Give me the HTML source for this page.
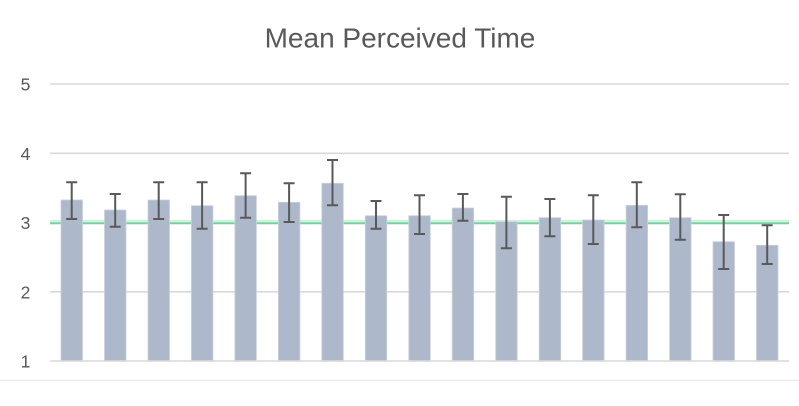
<!DOCTYPE html>
<html>
<head>
<meta charset="utf-8">
<style>
html,body{margin:0;padding:0;background:#fff;}
svg{display:block;}
</style>
</head>
<body>
<svg width="799" height="406" viewBox="0 0 799 406" xmlns="http://www.w3.org/2000/svg">
<rect x="0" y="0" width="799" height="406" fill="#ffffff"/>
<text x="400" y="47.5" text-anchor="middle" font-family="'Liberation Sans', sans-serif" font-size="28" fill="#595959">Mean Perceived Time</text>
<g stroke="#d9d9d9" stroke-width="1.6">
<line x1="50" y1="84" x2="789" y2="84"/>
<line x1="50" y1="153.3" x2="789" y2="153.3"/>
<line x1="50" y1="222.5" x2="789" y2="222.5"/>
<line x1="50" y1="291.8" x2="789" y2="291.8"/>
</g>
<line x1="0" y1="380.3" x2="799" y2="380.3" stroke="#e3e3e3" stroke-width="1"/>
<g font-family="'Liberation Sans', sans-serif" font-size="17.5" fill="#595959" text-anchor="middle">
<text x="25.5" y="90.5">5</text>
<text x="25.5" y="159.8">4</text>
<text x="25.5" y="229">3</text>
<text x="25.5" y="298.3">2</text>
<text x="25.5" y="367.5">1</text>
</g>
<rect x="50" y="219.8" width="739" height="5" fill="#d3efe0"/>
<line x1="50" y1="223.2" x2="789" y2="223.2" stroke="#6fd39a" stroke-width="1.6"/>
<g fill="#adb9ca" stroke="#c9d1dd" stroke-width="0.8">
<rect x="61" y="200" width="21.5" height="161"/>
<rect x="104.5" y="210" width="21.5" height="151"/>
<rect x="148" y="200" width="21.5" height="161"/>
<rect x="191.4" y="205.7" width="21.5" height="155.3"/>
<rect x="234.9" y="195.7" width="21.5" height="165.3"/>
<rect x="278.4" y="202.3" width="21.5" height="158.7"/>
<rect x="321.8" y="183.3" width="21.5" height="177.7"/>
<rect x="365.3" y="215.7" width="21.5" height="145.3"/>
<rect x="408.8" y="215.7" width="21.5" height="145.3"/>
<rect x="452.2" y="208" width="21.5" height="153"/>
<rect x="495.7" y="221.7" width="21.5" height="139.3"/>
<rect x="539.2" y="217.7" width="21.5" height="143.3"/>
<rect x="582.6" y="220" width="21.5" height="141"/>
<rect x="626.1" y="205.3" width="21.5" height="155.7"/>
<rect x="669.6" y="217.7" width="21.5" height="143.3"/>
<rect x="713" y="241.7" width="21.5" height="119.3"/>
<rect x="756.5" y="245.3" width="21.5" height="115.7"/>
</g>
<line x1="50" y1="361" x2="789" y2="361" stroke="#d9d9d9" stroke-width="1.6"/>
<g stroke="#595959" stroke-width="2" fill="none">
<path d="M71.7 182.3V219 M66.2 182.3H77.2 M66.2 219H77.2"/>
<path d="M115.2 194V226.7 M109.7 194H120.7 M109.7 226.7H120.7"/>
<path d="M158.7 182.3V219 M153.2 182.3H164.2 M153.2 219H164.2"/>
<path d="M202.1 182.3V228.7 M196.6 182.3H207.6 M196.6 228.7H207.6"/>
<path d="M245.6 173.3V217.7 M240.1 173.3H251.1 M240.1 217.7H251.1"/>
<path d="M289.1 183.3V222 M283.6 183.3H294.6 M283.6 222H294.6"/>
<path d="M332.5 160V205.3 M327 160H338 M327 205.3H338"/>
<path d="M376 201V228.7 M370.5 201H381.5 M370.5 228.7H381.5"/>
<path d="M419.5 195.3V234 M414 195.3H425 M414 234H425"/>
<path d="M462.9 194V220.7 M457.4 194H468.4 M457.4 220.7H468.4"/>
<path d="M506.4 196.7V248.3 M500.9 196.7H511.9 M500.9 248.3H511.9"/>
<path d="M549.9 199V236.3 M544.4 199H555.4 M544.4 236.3H555.4"/>
<path d="M593.3 195.3V244 M587.8 195.3H598.8 M587.8 244H598.8"/>
<path d="M636.8 182.3V227.3 M631.3 182.3H642.3 M631.3 227.3H642.3"/>
<path d="M680.3 194.3V239.7 M674.8 194.3H685.8 M674.8 239.7H685.8"/>
<path d="M723.7 215V269 M718.2 215H729.2 M718.2 269H729.2"/>
<path d="M767.2 225.3V264 M761.7 225.3H772.7 M761.7 264H772.7"/>
</g>
</svg>
</body>
</html>
